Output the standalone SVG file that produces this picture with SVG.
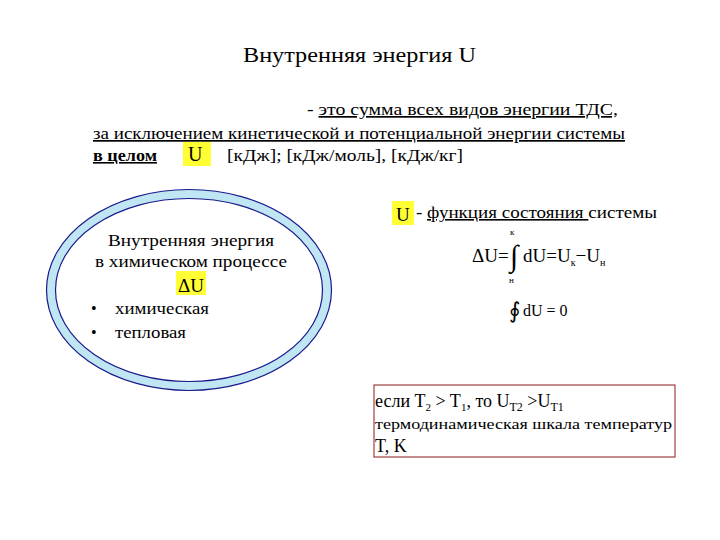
<svg xmlns="http://www.w3.org/2000/svg" width="720" height="540" viewBox="0 0 720 540" font-family="'Liberation Serif', 'DejaVu Serif', serif">
<style>
text{fill:#000}
.u{text-decoration:underline}
.hl{fill:#ffff33}
</style>
<rect width="720" height="540" fill="#fff"/>
<g id="title"><text x="243" y="62" font-size="20" textLength="233" lengthAdjust="spacingAndGlyphs">Внутренняя энергия U</text></g>
<g id="definition" font-size="17">
<text x="307" y="115" textLength="311" lengthAdjust="spacingAndGlyphs">- <tspan class="u">это сумма всех видов энергии  ТДС,</tspan></text>
<text x="93" y="139" class="u" textLength="532" lengthAdjust="spacingAndGlyphs">за исключением кинетической и потенциальной энергии системы</text>
<rect class="hl" x="183" y="142" width="28" height="24"/>
<text x="93" y="161" class="u" font-weight="bold" font-size="16" textLength="64" lengthAdjust="spacingAndGlyphs">в целом</text>
<text x="188" y="161" font-size="20">U</text>
<text x="227" y="161" textLength="236" lengthAdjust="spacingAndGlyphs">[кДж]; [кДж/моль], [кДж/кг]</text>
</g>
<g id="ellipse">
<ellipse cx="189" cy="290" rx="138" ry="96" fill="none" stroke="#bfe6f2" stroke-width="9"/>
<ellipse cx="189" cy="290" rx="142.5" ry="100.5" fill="none" stroke="#1a1a8c" stroke-width="1.2"/>
<ellipse cx="189" cy="290" rx="133.5" ry="91.5" fill="none" stroke="#1a1a8c" stroke-width="1.2"/>
<text x="191" y="246" font-size="16" text-anchor="middle" textLength="166" lengthAdjust="spacingAndGlyphs">Внутренняя энергия</text>
<text x="191" y="267" font-size="16" text-anchor="middle" textLength="192" lengthAdjust="spacingAndGlyphs">в химическом процессе</text>
<rect class="hl" x="176" y="271" width="30" height="24"/>
<text x="191" y="292" font-size="19" text-anchor="middle">ΔU</text>
<text x="91" y="314" font-size="16">•</text><text x="115" y="314" font-size="16" textLength="94" lengthAdjust="spacingAndGlyphs">химическая</text>
<text x="91" y="338" font-size="16">•</text><text x="115" y="338" font-size="16" textLength="71" lengthAdjust="spacingAndGlyphs">тепловая</text>
</g>
<g id="function">
<rect class="hl" x="392" y="201" width="22" height="24"/>
<text x="396" y="221" font-size="19">U</text>
<text x="416" y="218" font-size="16" textLength="241" lengthAdjust="spacingAndGlyphs">- <tspan class="u">функция состояния </tspan>системы</text>
<text x="472" y="262" font-size="19">ΔU=</text>
<text x="510" y="266" font-size="30">∫</text>
<text x="510" y="235" font-size="9">к</text>
<text x="509" y="283" font-size="9">н</text>
<text x="523" y="262" font-size="19">dU=U<tspan font-size="10" dy="4">к</tspan><tspan dy="-4">−U</tspan><tspan font-size="10" dy="4">н</tspan></text>
<text x="509" y="318" font-size="22">∮</text>
<text x="523" y="316" font-size="16">dU = 0</text>
</g>
<g id="box">
<rect x="374" y="385" width="301" height="72" fill="none" stroke="#8b1a1a" stroke-width="1"/>
<text x="375" y="407" font-size="18">если T<tspan font-size="11" dy="4">2</tspan><tspan dy="-4"> &gt; T</tspan><tspan font-size="11" dy="4">1</tspan><tspan dy="-4">, то U</tspan><tspan font-size="12" dy="4">T2</tspan><tspan dy="-4"> &gt;U</tspan><tspan font-size="12" dy="4">T1</tspan></text>
<text x="375" y="429" font-size="15" textLength="297" lengthAdjust="spacingAndGlyphs">термодинамическая шкала температур</text>
<text x="375" y="452" font-size="18">T, K</text>
</g>
</svg>
